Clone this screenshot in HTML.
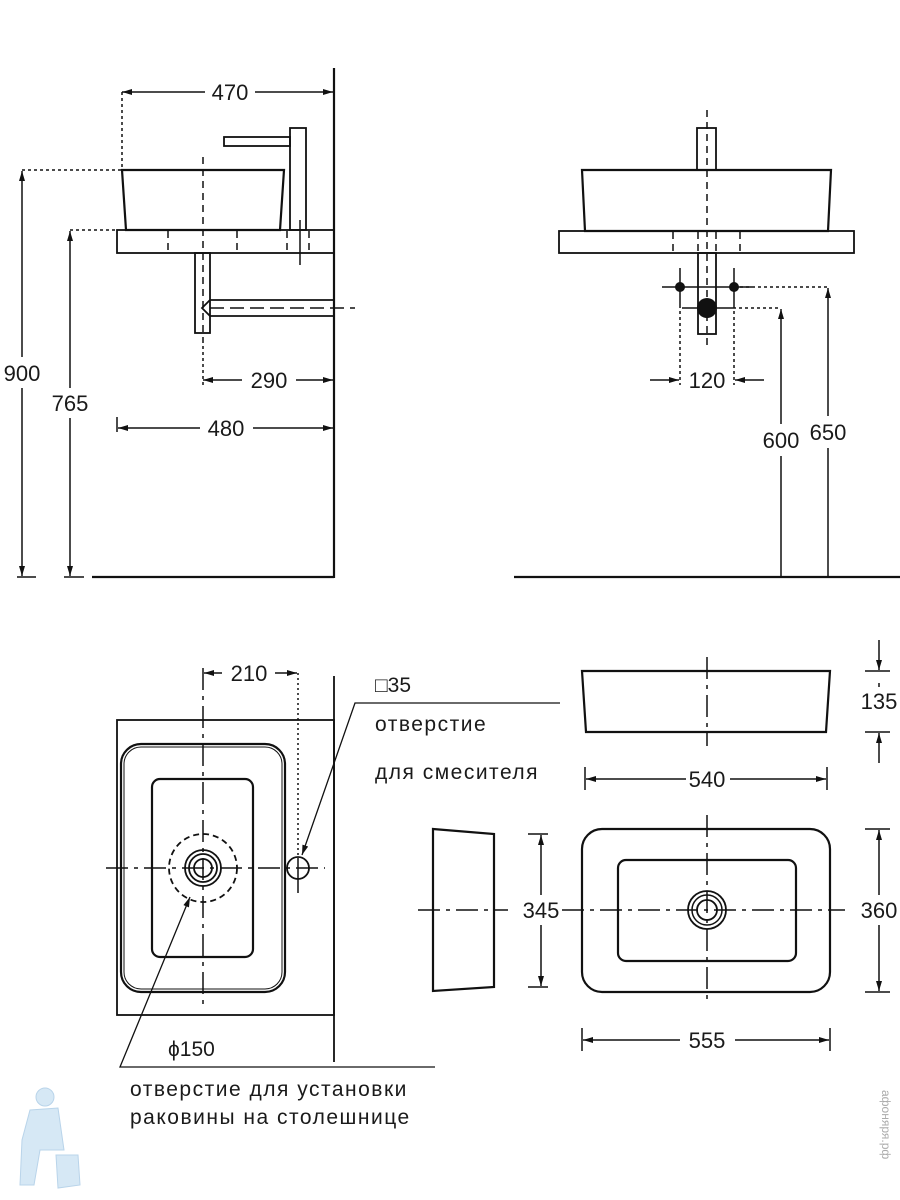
<!DOCTYPE html>
<html><head><meta charset="utf-8"><style>
html,body{margin:0;padding:0;background:#fff;}
svg{display:block;}
text{font-family:"Liberation Sans","DejaVu Sans",sans-serif;fill:#1a1a1a;}
.ru{font-size:21px;letter-spacing:1.5px;}
</style></head><body>
<svg width="900" height="1200" viewBox="0 0 900 1200" xmlns="http://www.w3.org/2000/svg">
<defs>
<marker id="a" viewBox="0 0 10 6" refX="10" refY="3" markerWidth="11" markerHeight="6" markerUnits="userSpaceOnUse" orient="auto"><path d="M0,0 L10,3 L0,6 z" fill="#111"/></marker>
</defs>
<g stroke="#111" stroke-width="2.2" fill="none">
<!-- TOP LEFT -->
<line x1="334" y1="68" x2="334" y2="578"/>
<line x1="92" y1="577" x2="334" y2="577"/>
<path d="M122,170 L284,170 L280,230 L126,230 Z"/>
<rect x="290" y="128" width="16" height="102" stroke-width="1.8"/>
<rect x="224" y="137" width="66" height="9" stroke-width="1.8"/>
<rect x="117" y="230" width="217" height="23" stroke-width="1.8"/>
<rect x="195" y="253" width="15" height="80" stroke-width="1.8"/>
<path d="M334,300 L210,300 L202,308 L210,316 L334,316" stroke-width="1.8"/>
</g>
<g stroke="#111" stroke-width="1.5" fill="none" stroke-dasharray="7,5">
<line x1="168" y1="231" x2="168" y2="253"/><line x1="237" y1="231" x2="237" y2="253"/>
<line x1="287" y1="231" x2="287" y2="253"/><line x1="309" y1="231" x2="309" y2="253"/>
<line x1="203" y1="157" x2="203" y2="340"/>
<line x1="300" y1="220" x2="300" y2="265" stroke-dasharray="none"/>
<line x1="210" y1="308" x2="355" y2="308" stroke-dasharray="14,6"/>
</g>
<g stroke="#111" stroke-width="1.5" stroke-dasharray="3,3" fill="none">
<line x1="122" y1="92" x2="122" y2="170"/>
<line x1="22" y1="170" x2="122" y2="170"/>
<line x1="70" y1="230" x2="117" y2="230"/>
<line x1="203" y1="340" x2="203" y2="385"/>
</g>
<g stroke="#111" stroke-width="1.5" fill="none">
<line x1="205" y1="92" x2="122" y2="92" marker-end="url(#a)"/>
<line x1="255" y1="92" x2="333" y2="92" marker-end="url(#a)"/>
<line x1="22" y1="357" x2="22" y2="171" marker-end="url(#a)"/>
<line x1="22" y1="388" x2="22" y2="576" marker-end="url(#a)"/>
<line x1="17" y1="577" x2="36" y2="577"/>
<line x1="70" y1="388" x2="70" y2="231" marker-end="url(#a)"/>
<line x1="70" y1="418" x2="70" y2="576" marker-end="url(#a)"/>
<line x1="64" y1="577" x2="84" y2="577"/>
<line x1="242" y1="380" x2="203" y2="380" marker-end="url(#a)"/>
<line x1="296" y1="380" x2="333" y2="380" marker-end="url(#a)"/>
<line x1="200" y1="428" x2="118" y2="428" marker-end="url(#a)"/>
<line x1="253" y1="428" x2="333" y2="428" marker-end="url(#a)"/>
<line x1="117" y1="417" x2="117" y2="432"/>
</g>
<text x="230" y="100" font-size="22" text-anchor="middle">470</text>
<text x="22" y="381" font-size="22" text-anchor="middle">900</text>
<text x="70" y="411" font-size="22" text-anchor="middle">765</text>
<text x="269" y="388" font-size="22" text-anchor="middle">290</text>
<text x="226" y="436" font-size="22" text-anchor="middle">480</text>

<!-- TOP RIGHT -->
<g stroke="#111" stroke-width="2.2" fill="none">
<line x1="514" y1="577" x2="900" y2="577"/>
<rect x="697" y="128" width="19" height="42" stroke-width="1.8"/>
<path d="M582,170 L831,170 L828,231 L585,231 Z"/>
<rect x="559" y="231" width="295" height="22" stroke-width="1.8"/>
<rect x="698" y="253" width="18" height="81" stroke-width="1.8"/>
</g>
<g stroke="#111" stroke-width="1.5" fill="none" stroke-dasharray="7,5">
<line x1="673" y1="232" x2="673" y2="253"/><line x1="740" y1="232" x2="740" y2="253"/>
<line x1="698" y1="232" x2="698" y2="253"/><line x1="716" y1="232" x2="716" y2="253"/>
<line x1="707" y1="110" x2="707" y2="345"/>
</g>
<g stroke="#111" stroke-width="1.5" fill="none">
<line x1="662" y1="287" x2="752" y2="287"/>
<line x1="680" y1="268" x2="680" y2="305"/><line x1="734" y1="268" x2="734" y2="305"/>
<line x1="682" y1="308" x2="733" y2="308"/>
<line x1="650" y1="380" x2="679" y2="380" marker-end="url(#a)"/>
<line x1="764" y1="380" x2="735" y2="380" marker-end="url(#a)"/>
<line x1="781" y1="424" x2="781" y2="309" marker-end="url(#a)"/>
<line x1="781" y1="456" x2="781" y2="577"/>
<line x1="828" y1="416" x2="828" y2="288" marker-end="url(#a)"/>
<line x1="828" y1="448" x2="828" y2="577"/>
</g>
<g stroke="#111" stroke-width="1.5" stroke-dasharray="3,3" fill="none">
<line x1="680" y1="305" x2="680" y2="385"/><line x1="734" y1="305" x2="734" y2="385"/>
<line x1="740" y1="287" x2="830" y2="287"/>
<line x1="733" y1="308" x2="781" y2="308"/>
</g>
<circle cx="680" cy="287" r="5" fill="#111"/><circle cx="734" cy="287" r="5" fill="#111"/>
<circle cx="707" cy="308" r="10" fill="#111"/>
<text x="707" y="388" font-size="22" text-anchor="middle">120</text>
<text x="781" y="448" font-size="22" text-anchor="middle">600</text>
<text x="828" y="440" font-size="22" text-anchor="middle">650</text>

<!-- BOTTOM LEFT -->
<g stroke="#111" stroke-width="1.8" fill="none">
<rect x="117" y="720" width="217" height="295"/>
<line x1="334" y1="676" x2="334" y2="1062"/>
<rect x="121" y="744" width="164" height="248" rx="20" stroke-width="2.2"/>
<rect x="124" y="747" width="158" height="242" rx="17" stroke-width="1"/>
<rect x="152" y="779" width="101" height="178" rx="8" stroke-width="2.2"/>
<circle cx="203" cy="868" r="18"/><circle cx="203" cy="868" r="14"/><circle cx="203" cy="868" r="9"/>
<circle cx="203" cy="868" r="34" stroke-dasharray="6,4"/>
<circle cx="298" cy="868" r="11"/>
</g>
<g stroke="#111" stroke-width="1.5" fill="none" stroke-dasharray="22,6,4,6">
<line x1="106" y1="868" x2="325" y2="868"/>
<line x1="203" y1="668" x2="203" y2="1005"/>
</g>
<g stroke="#111" stroke-width="1.5" fill="none">
<line x1="298" y1="860" x2="298" y2="893"/>
<line x1="222" y1="673" x2="204" y2="673" marker-end="url(#a)"/>
<line x1="275" y1="673" x2="297" y2="673" marker-end="url(#a)"/>
<line x1="298" y1="673" x2="298" y2="860" stroke-dasharray="2,3"/>
<polyline points="560,703 355,703 302,855" marker-end="url(#a)" stroke-width="1.3"/>
<polyline points="435,1067 120,1067 190,897" marker-end="url(#a)" stroke-width="1.3"/>
</g>
<text x="249" y="681" font-size="22" text-anchor="middle">210</text>
<text x="375" y="692" font-size="21">□35</text>
<text x="375" y="731" class="ru">отверстие</text>
<text x="375" y="779" class="ru">для смесителя</text>
<text x="168" y="1056" font-size="21">ϕ150</text>
<text x="130" y="1096" class="ru">отверстие для установки</text>
<text x="130" y="1124" class="ru">раковины на столешнице</text>

<!-- BOTTOM RIGHT -->
<g stroke="#111" stroke-width="2.2" fill="none">
<path d="M582,671 L830,671 L826,732 L586,732 Z"/>
<path d="M433,829 L494,834 L494,987 L433,991 Z"/>
<rect x="582" y="829" width="248" height="163" rx="20"/>
<rect x="618" y="860" width="178" height="101" rx="8"/>
<circle cx="707" cy="910" r="19" stroke-width="1.8"/><circle cx="707" cy="910" r="15" stroke-width="1.5"/><circle cx="707" cy="910" r="10" stroke-width="1.8"/>
</g>
<g stroke="#111" stroke-width="1.5" fill="none" stroke-dasharray="22,6,4,6">
<line x1="707" y1="657" x2="707" y2="746"/>
<line x1="418" y1="910" x2="508" y2="910"/>
<line x1="562" y1="910" x2="845" y2="910"/>
<line x1="707" y1="815" x2="707" y2="1005"/>
</g>
<g stroke="#111" stroke-width="1.5" fill="none">
<line x1="865" y1="671" x2="890" y2="671"/><line x1="865" y1="732" x2="890" y2="732"/>
<line x1="879" y1="640" x2="879" y2="670" marker-end="url(#a)"/>
<line x1="879" y1="763" x2="879" y2="733" marker-end="url(#a)"/>
<line x1="879" y1="687" x2="879" y2="683"/>
<line x1="585" y1="767" x2="585" y2="790"/><line x1="827" y1="767" x2="827" y2="790"/>
<line x1="686" y1="779" x2="586" y2="779" marker-end="url(#a)"/>
<line x1="730" y1="779" x2="826" y2="779" marker-end="url(#a)"/>
<line x1="528" y1="834" x2="548" y2="834"/><line x1="528" y1="987" x2="548" y2="987"/>
<line x1="541" y1="895" x2="541" y2="835" marker-end="url(#a)"/>
<line x1="541" y1="925" x2="541" y2="986" marker-end="url(#a)"/>
<line x1="865" y1="829" x2="890" y2="829"/><line x1="865" y1="992" x2="890" y2="992"/>
<line x1="879" y1="895" x2="879" y2="830" marker-end="url(#a)"/>
<line x1="879" y1="925" x2="879" y2="991" marker-end="url(#a)"/>
<line x1="582" y1="1028" x2="582" y2="1051"/><line x1="830" y1="1028" x2="830" y2="1051"/>
<line x1="680" y1="1040" x2="583" y2="1040" marker-end="url(#a)"/>
<line x1="735" y1="1040" x2="829" y2="1040" marker-end="url(#a)"/>
</g>
<text x="879" y="709" font-size="22" text-anchor="middle">135</text>
<text x="707" y="787" font-size="22" text-anchor="middle">540</text>
<text x="541" y="918" font-size="22" text-anchor="middle">345</text>
<text x="879" y="918" font-size="22" text-anchor="middle">360</text>
<text x="707" y="1048" font-size="22" text-anchor="middle">555</text>

<!-- watermark/logo -->
<g fill="#d6e8f5" stroke="#b9d4ea" stroke-width="1">
<circle cx="45" cy="1097" r="9"/>
<path d="M30,1110 L58,1108 L64,1150 L40,1150 L34,1185 L20,1185 L22,1140 Z"/>
<path d="M56,1155 L78,1155 L80,1185 L58,1188 Z"/>
</g>
<text x="0" y="0" font-size="12" transform="translate(882,1090) rotate(90)" style="fill:#aaa">афоняря.рф</text>
</svg>
</body></html>
